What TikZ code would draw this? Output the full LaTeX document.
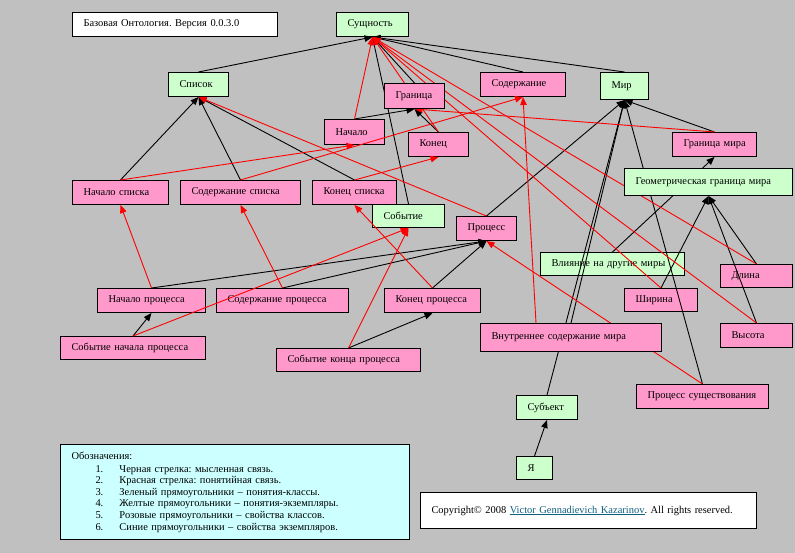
\documentclass[tikz,border=0pt]{standalone}
\usepackage{fontspec}
\setmainfont{Liberation Serif}
\usetikzlibrary{arrows.meta}
\definecolor{bggray}{HTML}{C0C0C0}
\definecolor{clgreen}{HTML}{CCFFCC}
\definecolor{clpink}{HTML}{FF99CC}
\definecolor{clcyan}{HTML}{CCFFFF}
\definecolor{linkcol}{RGB}{16,96,128}
\newcommand\dgfont{\fontsize{10.5}{11.6}\selectfont\frenchspacing}
\pgfdeclarelayer{back}
\pgfdeclarelayer{front}
\pgfsetlayers{back,main,front}
\tikzset{
  box/.style={draw=black, line width=1bp, anchor=north west, inner xsep=0bp, inner ysep=0bp, align=left, font=\dgfont, execute at begin node={\hspace*{11bp}}},
  wh/.style 2 args={text width={#1bp}, minimum height=#2bp},
  grn/.style={box, fill=clgreen},
  pnk/.style={box, fill=clpink},
  wht/.style={box, fill=white},
  blkarr/.style={draw=black, line width=0.9bp, -{Triangle[length=8bp,width=6.5bp]}},
  redarr/.style={draw=red, line width=0.9bp, -{Triangle[length=8bp,width=6.5bp]}},
}
\begin{document}
\begin{tikzpicture}[x=1bp, y=-1bp]
\begin{pgfonlayer}{back}
\fill[bggray] (0,0) rectangle (795,553);
\end{pgfonlayer}
\useasboundingbox (0,0) rectangle (795,553);

% nodes
\node[wht, wh={205}{24}] (title) at (72,12) {Базовая Онтология. Версия 0.0.3.0};
\node[grn, wh={72}{24}] (sush) at (336,12) {Сущность};
\node[grn, wh={60}{24}] (spisok) at (168,72) {Список};
\node[pnk, wh={85}{24}] (soderzh) at (480,72) {Содержание};
\node[grn, wh={48}{27}] (mir) at (600,72) {Мир};
\node[pnk, wh={60}{25}] (nachalo) at (324,119) {Начало};
\node[pnk, wh={60}{24}] (konec) at (408,132) {Конец};
\node[pnk, wh={84}{24}] (granmir) at (672,132) {Граница мира};
\node[pnk, wh={96}{24}] (nspisk) at (72,180) {Начало списка};
\node[pnk, wh={120}{24}] (sspisk) at (180,180) {Содержание списка};
\node[pnk, wh={84}{24}] (kspisk) at (312,180) {Конец списка};
\node[grn, wh={72}{23}] (sobyt) at (372,204) {Событие};
\node[pnk, wh={60}{24}] (process) at (456,216) {Процесс};
\node[grn, wh={144}{23}] (vliyan) at (540,252) {Влияние на другие миры};
\node[pnk, wh={72}{23}] (dlina) at (720,264) {Длина};
\node[pnk, wh={108}{24}] (nproc) at (97,288) {Начало процесса};
\node[pnk, wh={132}{24}] (sproc) at (216,288) {Содержание процесса};
\node[pnk, wh={96}{24}] (kproc) at (384,288) {Конец процесса};
\node[pnk, wh={73}{23}] (shir) at (624,288) {Ширина};
\node[pnk, wh={72}{24}] (vys) at (720,323) {Высота};
\node[pnk, wh={145}{23}] (snp) at (60,336) {Событие начала процесса};
\node[pnk, wh={144}{23}] (skp) at (276,348) {Событие конца процесса};
\node[pnk, wh={132}{24}] (pexist) at (636,384) {Процесс существования};
\node[grn, wh={61}{24}] (subj) at (516,395) {Субъект};
\node[grn, wh={36}{23}] (ya) at (516,456) {Я};
\node[box, fill=clcyan, wh={349}{95}] (legend) at (60,444) {Обозначения:\\[1.5bp]
\hspace*{35bp}\makebox[24bp][l]{1.}Черная стрелка: мысленная связь.\\
\hspace*{35bp}\makebox[24bp][l]{2.}Красная стрелка: понятийная связь.\\
\hspace*{35bp}\makebox[24bp][l]{3.}Зеленый прямоугольники – понятия-классы.\\
\hspace*{35bp}\makebox[24bp][l]{4.}Желтые прямоугольники – понятия-экземпляры.\\
\hspace*{35bp}\makebox[24bp][l]{5.}Розовые прямоугольники – свойства классов.\\
\hspace*{35bp}\makebox[24bp][l]{6.}Синие прямоугольники – свойства экземпляров.};
\node[wht, wh={336}{36}] (copyr) at (420,492) {Copyright© 2008 \textcolor{linkcol}{\underline{Victor Gennadievich Kazarinov}}. All rights reserved.};

\begin{pgfonlayer}{front}
\node[pnk, wh={60}{25}] (granica) at (384,83) {Граница};
\node[grn, wh={168}{27}] (geom) at (624,168) {Геометрическая граница мира};
\node[pnk, wh={181}{28}] (vnutr) at (480,323) {Внутреннее содержание мира};
\end{pgfonlayer}

% black arrows
\draw[blkarr] (spisok.north) -- (sush.south);
\draw[blkarr] (nspisk.north) -- (spisok.south);
\draw[blkarr] (sspisk.north) -- (spisok.south);
\draw[blkarr] (kspisk.north) -- (spisok.south);
\draw[blkarr] (nachalo.north) -- (granica.south);
\draw[blkarr] (konec.north) -- (granica.south);
\draw[blkarr] (granica.north) -- (sush.south);
\draw[blkarr] (sobyt.north) -- (sush.south);
\draw[blkarr] (soderzh.north) -- (sush.south);
\draw[blkarr] (mir.north) -- (sush.south);
\draw[blkarr] (granmir.north) -- (mir.south);
\draw[blkarr] (vliyan.north) -- (granmir.south);
\draw[blkarr] (shir.north) -- (geom.south);
\draw[blkarr] (dlina.north) -- (geom.south);
\draw[blkarr] (vys.north) -- (geom.south);
\draw[blkarr] (process.north) -- (mir.south);
\draw[blkarr] (vnutr.north) -- (mir.south);
\draw[blkarr] (subj.north) -- (mir.south);
\draw[blkarr] (pexist.north) -- (mir.south);
\draw[blkarr] (ya.north) -- (subj.south);
\draw[blkarr] (nproc.north) -- (process.south);
\draw[blkarr] (sproc.north) -- (process.south);
\draw[blkarr] (kproc.north) -- (process.south);
\draw[blkarr] (snp.north) -- (nproc.south);
\draw[blkarr] (skp.north) -- (kproc.south);

% red arrows
\draw[redarr] (nachalo.north) -- (sush.south);
\draw[redarr] (konec.north) -- (sush.south);
\draw[redarr] (nspisk.north) -- (nachalo.south);
\draw[redarr] (sspisk.north) -- (soderzh.south);
\draw[redarr] (kspisk.north) -- (konec.south);
\draw[redarr] (process.north) -- (spisok.south);
\draw[redarr] (granmir.north) -- (granica.south);
\draw[redarr] ([xshift=-35bp]vnutr.north) -- (soderzh.south);
\draw[redarr] (shir.north) -- (sush.south);
\draw[redarr] (dlina.north) -- (sush.south);
\draw[redarr] (vys.north) -- (sush.south);
\draw[redarr] (pexist.north) -- (process.south);
\draw[redarr] (nproc.north) -- (nspisk.south);
\draw[redarr] (sproc.north) -- (sspisk.south);
\draw[redarr] (kproc.north) -- (kspisk.south);
\draw[redarr] (snp.north) -- (sobyt.south);
\draw[redarr] (skp.north) -- (sobyt.south);
\end{tikzpicture}
\end{document}
